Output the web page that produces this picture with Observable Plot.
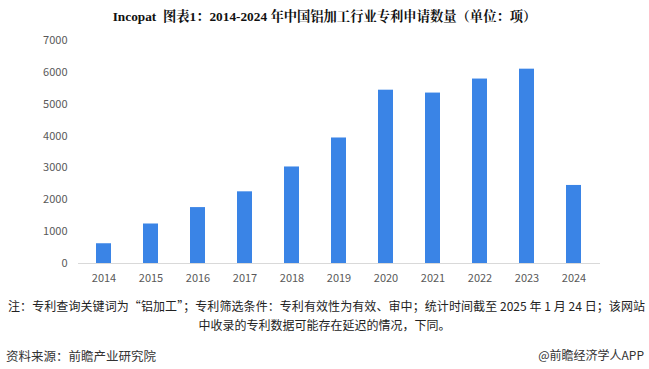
<!DOCTYPE html>
<html>
<head>
<meta charset="utf-8">
<script src="https://cdn.jsdelivr.net/npm/d3@7"></script>
<script src="https://cdn.jsdelivr.net/npm/@observablehq/plot@0.6"></script>
<style>
  html, body { margin: 0; padding: 0; background: #fff; }
  #wrap { width: 649px; height: 369px; position: relative; overflow: hidden; }
  #title { position: absolute; left: 0; top: 6px; width: 649px; text-align: center;
    font-family: "Liberation Serif", "Noto Serif CJK SC", "Noto Sans CJK SC", serif; font-weight: bold;
    font-size: 13.3px; color: #111; }
  #chart { position: absolute; left: 0; top: 30px; }
  .note { position: absolute; font-family: "Noto Sans CJK SC", sans-serif; font-size: 12px; color: #222; white-space: nowrap; }
  #n1 { left: 8px; width: 637px; text-align: justify; text-align-last: justify; }
  #n2 { left: 0; width: 649px; text-align: center; }
  #src { position: absolute; left: 6px; top: 346px; font-family: "Noto Sans CJK SC", sans-serif; font-size: 12.5px; color: #333; }
  #app { position: absolute; right: 5px; top: 346px; font-family: "Noto Sans CJK SC", sans-serif; font-size: 12px; color: #333; }
</style>
</head>
<body>
<div id="wrap">
  <div id="title">Incopat&nbsp; 图表1：2014-2024 年中国铝加工行业专利申请数量（单位：项）</div>
  <div id="chart"></div>
  <div class="note" id="n1" style="top:297px">注：专利查询关键词为“铝加工”；专利筛选条件：专利有效性为有效、审中；统计时间截至 2025 年 1 月 24 日；该网站</div>
  <div class="note" id="n2" style="top:316px">中收录的专利数据可能存在延迟的情况，下同。</div>
  <div id="src">资料来源：前瞻产业研究院</div>
  <div id="app">@前瞻经济学人APP</div>
</div>
<script>
const years = ["2014","2015","2016","2017","2018","2019","2020","2021","2022","2023","2024"];
const counts = [620, 1240, 1755, 2250, 3030, 3940, 5440, 5350, 5790, 6100, 2450];
const yTicks = [0, 1000, 2000, 3000, 4000, 5000, 6000, 7000];

const data = years.map((y, i) => ({year: y, value: counts[i]}));

const chart = Plot.plot({
  width: 649,
  height: 265,
  marginTop: 10,
  marginLeft: 78,
  marginRight: 49,
  marginBottom: 32,
  style: { fontFamily: "'Noto Sans CJK SC', 'Microsoft YaHei', sans-serif", fontSize: "11px", color: "#595959" },
  x: { domain: years, paddingInner: 0.68, paddingOuter: 0.34, label: null },
  y: { domain: [0, 7000], ticks: yTicks, label: null },
  marks: [
    Plot.barY(data, { x: "year", y: "value", fill: "#3a84e6" }),
    Plot.ruleY([0], { stroke: "#d9d9d9", strokeWidth: 1 }),
    Plot.axisY(yTicks, { tickSize: 0, tickPadding: 11, tickFormat: d3.format("d"), label: null, fill: "#595959" }),
    Plot.axisX({ tickSize: 0, tickPadding: 11, label: null, fill: "#595959" })
  ]
});
document.getElementById("chart").appendChild(chart);
</script>
</body>
</html>
